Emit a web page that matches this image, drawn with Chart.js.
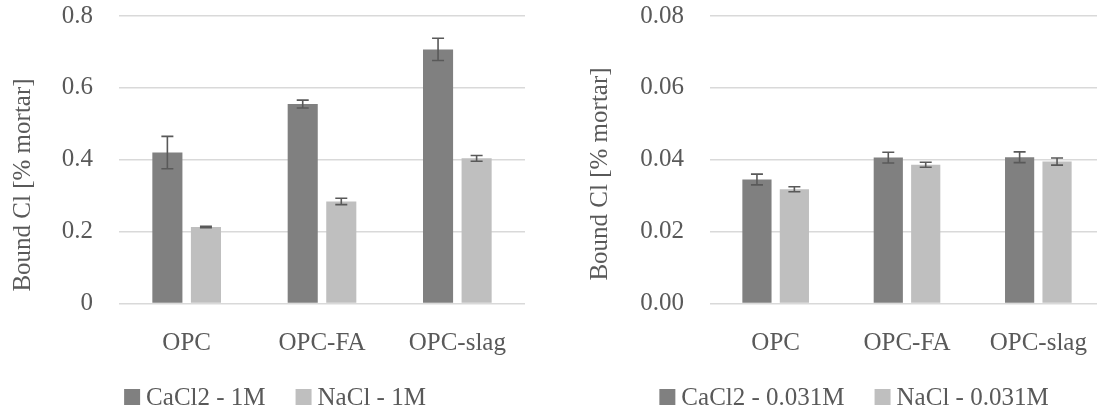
<!DOCTYPE html>
<html>
<head>
<meta charset="utf-8">
<script src="https://cdn.jsdelivr.net/npm/chart.js@4"></script>
<style>
    html, body { margin: 0; padding: 0; background: #fff; overflow: hidden; }
    body { width: 1097px; height: 410px; position: relative; }
    .panel { position: absolute; top: 0; }
    #left { left: 0; }
    #right { left: 548px; }
</style>
</head>
<body>
<div class="panel" id="left"><canvas id="chartLeft" width="548" height="419"></canvas></div>
<div class="panel" id="right"><canvas id="chartRight" width="612" height="419"></canvas></div>
<script>
// Data
const categories = ['OPC', 'OPC-FA', 'OPC-slag'];

const cacl2High = [0.420, 0.555, 0.707];
const cacl2HighErr = [0.045, 0.011, 0.031];
const naclHigh = [0.213, 0.284, 0.404];
const naclHighErr = [0.002, 0.009, 0.008];

const cacl2Low = [0.0345, 0.0406, 0.0407];
const cacl2LowErr = [0.0015, 0.0015, 0.0015];
const naclLow = [0.0318, 0.0386, 0.0395];
const naclLowErr = [0.0007, 0.0007, 0.0010];

const leftTickLabels = ['0', '0.2', '0.4', '0.6', '0.8'];
const rightTickLabels = ['0.00', '0.02', '0.04', '0.06', '0.08'];

const legendHigh = ['CaCl2 - 1M', 'NaCl - 1M'];
const legendLow = ['CaCl2 - 0.031M', 'NaCl - 0.031M'];
const yTitle = 'Bound Cl [% mortar]';

// Styling
const FONT = '"Liberation Serif", "DejaVu Serif", serif';
const TEXT = '#595959';
const DARK = '#808080';
const LIGHT = '#bfbfbf';
const GRID = '#d9d9d9';

// Error bars drawn from the bar elements
const errorBars = {
    id: 'errorBars',
    afterDatasetsDraw(chart, args, opts) {
        const { ctx } = chart;
        const y = chart.scales.y;
        ctx.save();
        ctx.strokeStyle = TEXT;
        ctx.lineWidth = 1.6;
        chart.data.datasets.forEach((ds, i) => {
            const meta = chart.getDatasetMeta(i);
            meta.data.forEach((bar, j) => {
                const v = ds.data[j];
                const e = opts.errors[i][j];
                const top = y.getPixelForValue(v + e);
                const bot = y.getPixelForValue(v - e);
                ctx.beginPath();
                ctx.moveTo(bar.x, top);
                ctx.lineTo(bar.x, bot);
                ctx.moveTo(bar.x - 6, top);
                ctx.lineTo(bar.x + 6, top);
                ctx.moveTo(bar.x - 6, bot);
                ctx.lineTo(bar.x + 6, bot);
                ctx.stroke();
            });
        });
        ctx.restore();
    }
};

// Rotated y title at a set spot
const sideTitle = {
    id: 'sideTitle',
    afterDraw(chart, args, opts) {
        const { ctx } = chart;
        ctx.save();
        ctx.translate(opts.x, opts.y);
        ctx.rotate(-Math.PI / 2);
        ctx.font = `25px ${FONT}`;
        ctx.fillStyle = TEXT;
        ctx.textAlign = 'center';
        ctx.textBaseline = 'middle';
        ctx.fillText(opts.text, 0, 0);
        ctx.restore();
    }
};

// Legend with small gap between box and text
const boxLegend = {
    id: 'boxLegend',
    afterDraw(chart, args, opts) {
        const { ctx } = chart;
        ctx.save();
        ctx.font = `25px ${FONT}`;
        const box = 16, gap = 6, spacing = 30;
        const widths = opts.labels.map(t => ctx.measureText(t).width);
        const total = widths.reduce((a, w) => a + box + gap + w, 0) + spacing * (widths.length - 1);
        let x = opts.cx - total / 2;
        chart.data.datasets.forEach((ds, i) => {
            ctx.fillStyle = ds.backgroundColor;
            ctx.fillRect(x, opts.cy - box / 2, box, box);
            x += box + gap;
            ctx.fillStyle = TEXT;
            ctx.textAlign = 'left';
            ctx.textBaseline = 'middle';
            ctx.fillText(opts.labels[i], x, opts.cy + 1);
            x += widths[i] + spacing;
        });
        ctx.restore();
    }
};

function makeChart(canvasId, cfg) {
    const ctx = document.getElementById(canvasId).getContext('2d');
    return new Chart(ctx, {
        type: 'bar',
        data: {
            labels: categories,
            datasets: [
                {
                    label: cfg.legend[0],
                    data: cfg.series[0],
                    backgroundColor: DARK,
                    barPercentage: 0.78,
                    categoryPercentage: 0.57
                },
                {
                    label: cfg.legend[1],
                    data: cfg.series[1],
                    backgroundColor: LIGHT,
                    barPercentage: 0.78,
                    categoryPercentage: 0.57
                }
            ]
        },
        options: {
            responsive: false,
            animation: false,
            devicePixelRatio: 1,
            layout: { padding: { left: 0, right: cfg.padRight, top: 16, bottom: 0 } },
            plugins: {
                legend: { display: false },
                tooltip: { enabled: false },
                errorBars: { errors: cfg.errors },
                sideTitle: { text: yTitle, x: cfg.titleX, y: cfg.titleY },
                boxLegend: { labels: cfg.legend, cx: cfg.legendX, cy: 397 }
            },
            scales: {
                x: {
                    grid: { display: false, drawTicks: false },
                    border: { display: false },
                    ticks: {
                        color: TEXT,
                        font: { family: FONT, size: 25 },
                        padding: 25,
                        maxRotation: 0
                    },
                    afterFit: (axis) => { axis.height = 115.5; }
                },
                y: {
                    min: 0,
                    max: cfg.max,
                    grid: { color: GRID, lineWidth: 1.6, drawTicks: true, tickLength: 26, tickColor: 'rgba(0,0,0,0)' },
                    border: { display: false },
                    ticks: {
                        stepSize: cfg.max / 4,
                        color: TEXT,
                        font: { family: FONT, size: 25 },
                        padding: 0,
                        callback: (v, i) => cfg.tickLabels[i]
                    },
                    afterFit: (axis) => { axis.width = cfg.axisWidth; }
                }
            }
        },
        plugins: [errorBars, sideTitle, boxLegend]
    });
}

makeChart('chartLeft', {
    series: [cacl2High, naclHigh],
    errors: [cacl2HighErr, naclHighErr],
    legend: legendHigh,
    tickLabels: leftTickLabels,
    max: 0.8,
    axisWidth: 119,
    padRight: 23,
    titleX: 23,
    titleY: 185,
    legendX: 275
});

makeChart('chartRight', {
    series: [cacl2Low, naclLow],
    errors: [cacl2LowErr, naclLowErr],
    legend: legendLow,
    tickLabels: rightTickLabels,
    max: 0.08,
    axisWidth: 162,
    padRight: 56,
    titleX: 52,
    titleY: 174,
    legendX: 306
});
</script>
</body>
</html>
